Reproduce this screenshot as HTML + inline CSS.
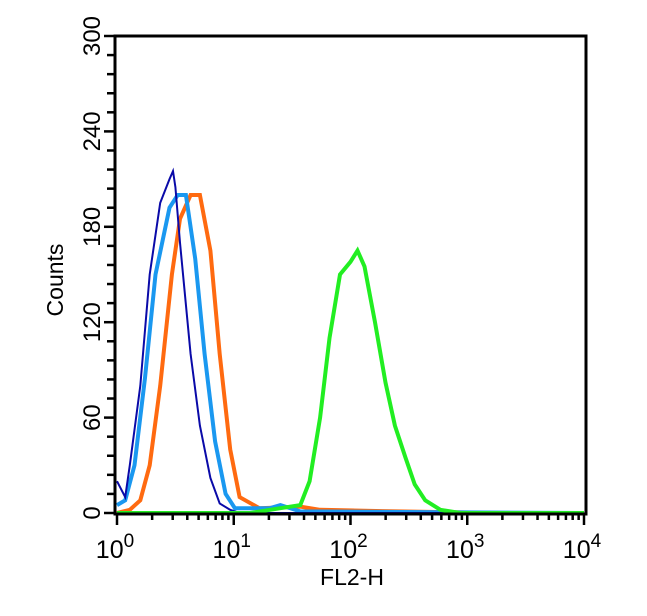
<!DOCTYPE html>
<html><head><meta charset="utf-8"><style>
html,body{margin:0;padding:0;background:#fff;}
svg{display:block;font-family:"Liberation Sans",Arial,sans-serif;}
</style></head><body>
<svg id="chart" width="647" height="616" viewBox="0 0 647 616">
<g id="plot"></g>
<g id="axes"></g>
<text x="352" y="585" text-anchor="middle" font-size="23">FL2-H</text>
<text transform="translate(63,280) rotate(-90)" text-anchor="middle" font-size="23">Counts</text>
</svg>
<script>
// data: x positions are log10(FL2-H), y are counts
const yTicks = [0, 60, 120, 180, 240, 300];
const xDecades = [0, 1, 2, 3, 4];
const navyX = [0.0, 0.07, 0.11, 0.20, 0.28, 0.37, 0.45, 0.48, 0.50, 0.54, 0.63, 0.71, 0.80, 0.88, 0.97, 1.05, 4.0];
const navyY = [20, 10, 30, 80, 150, 195, 210, 215, 205, 170, 100, 55, 22, 6, 2, 0, 0];
const blueX = [0.0, 0.07, 0.15, 0.24, 0.33, 0.45, 0.52, 0.59, 0.67, 0.75, 0.84, 0.93, 1.01, 1.31, 1.40, 1.57, 4.0];
const blueY = [5, 8, 30, 85, 150, 192, 200, 200, 160, 100, 45, 12, 3, 3, 5, 1, 0];
const orangeX = [0.0, 0.11, 0.20, 0.28, 0.37, 0.47, 0.54, 0.63, 0.71, 0.80, 0.88, 0.97, 1.05, 1.22, 1.57, 1.74, 2.4, 3.28, 4.0];
const orangeY = [0, 2, 8, 30, 80, 150, 185, 200, 200, 165, 100, 40, 10, 3, 4, 2, 1, 0, 0];
const greenX = [0.0, 1.14, 1.40, 1.57, 1.65, 1.74, 1.82, 1.91, 2.00, 2.06, 2.12, 2.21, 2.30, 2.38, 2.47, 2.55, 2.64, 2.77, 2.94, 4.0];
const greenY = [0, 0, 3, 5, 20, 60, 110, 150, 158, 165, 155, 120, 82, 55, 35, 18, 8, 2, 0, 0];

const L=117, R=584, T=36, B=513;
function sx(v){return L+(v-0)/(4-0)*(R-L);}
function sy(v){return B-(v/300)*(B-T);}
const NS="http://www.w3.org/2000/svg";
const plot=document.getElementById('plot'), axes=document.getElementById('axes');
function mk(tag,attrs,parent){const e=document.createElementNS(NS,tag);for(const k in attrs)e.setAttribute(k,attrs[k]);parent.appendChild(e);return e;}

function drawSeries(xs,ys,color,w,name){
  let pts=[];
  for(let i=0;i<xs.length;i++){pts.push(sx(xs[i]).toFixed(1)+','+sy(ys[i]).toFixed(1));}
  const p=mk('polyline',{points:pts.join(' '),fill:'none',stroke:color,'stroke-width':w,'stroke-linejoin':'miter'},plot);
  
  
}
drawSeries(orangeX,orangeY,'#ff6a10',4,'histogram-orange');
drawSeries(blueX,blueY,'#1a98f0',4,'histogram-light-blue');
drawSeries(navyX,navyY,'#0a0aa8',2,'histogram-navy');
drawSeries(greenX,greenY,'#22ee22',4,'histogram-green');

const fr=mk('rect',{x:115,y:T,width:R-113,height:B-T+1,fill:'none',stroke:'#000','stroke-width':3},axes);



for(let v=0;v<=300;v+=12){
  const major=v%60===0;
  const t=mk('line',{x1:114,x2:major?104:107,y1:sy(v),y2:sy(v),stroke:'#000','stroke-width':2.5},axes);
  
  
}
yTicks.forEach(v=>{
  const y=sy(v);
  const t=mk('text',{x:0,y:0,transform:'translate(100,'+y+') rotate(-90)','text-anchor':'middle','font-size':24,fill:'#000'},axes);
  t.textContent=v;
  
  
});
xDecades.forEach(d=>{
  const x=sx(d);
  const t=mk('line',{x1:x,x2:x,y1:B+1,y2:B+12,stroke:'#000','stroke-width':2.5},axes);
  
  
  if(d<4){
    for(let m=2;m<=9;m++){
      const xm=sx(d+Math.log10(m));
      const tm=mk('line',{x1:xm,x2:xm,y1:B+1,y2:B+7,stroke:'#000','stroke-width':2.5},axes);
      
      
    }
  }
  const lb=mk('text',{x:x-2,y:558,'text-anchor':'middle','font-size':25,fill:'#000'},axes);
  
  
  lb.textContent='10';
  const sp=mk('tspan',{dy:-11,'font-size':19},lb);
  sp.textContent=d;
});
</script>
</body></html>
